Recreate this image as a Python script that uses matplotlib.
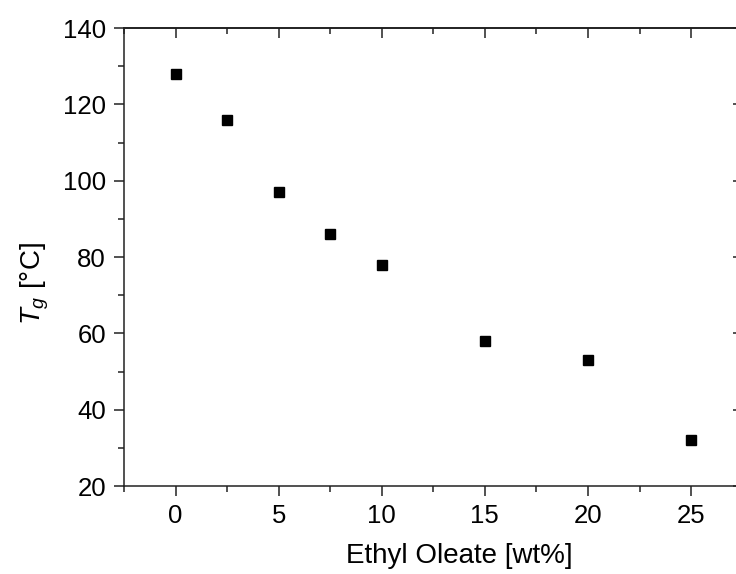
import matplotlib
matplotlib.use("Agg")
import matplotlib.pyplot as plt
from matplotlib.ticker import MultipleLocator

plt.rcParams['font.family'] = ['Liberation Sans', 'DejaVu Sans']
plt.rcParams['mathtext.fontset'] = 'custom'
plt.rcParams['mathtext.it'] = 'Liberation Sans:italic'
plt.rcParams['mathtext.rm'] = 'Liberation Sans'

ethyl_oleate = [0, 2.5, 5, 7.5, 10, 15, 20, 25]
tg_values = [128, 116, 97, 86, 78, 58, 53, 32]
x_ticks = [0, 5, 10, 15, 20, 25]
y_ticks = [20, 40, 60, 80, 100, 120, 140]

fig = plt.figure(figsize=(7.36, 5.74), dpi=100)
ax = fig.add_axes([124/736, 1-486/574, (742.6-124)/736, (486-28)/574])

ax.plot(ethyl_oleate, tg_values, linestyle='none', marker='s', markersize=7,
        color='black')

ax.set_xlim(-2.5, 27.5)
ax.set_ylim(20, 140)
ax.set_xticks(x_ticks)
ax.set_yticks(y_ticks)
ax.xaxis.set_minor_locator(MultipleLocator(2.5))
ax.yaxis.set_minor_locator(MultipleLocator(10))

spine_color = '#222222'
for s in ax.spines.values():
    s.set_linewidth(1.1)
    s.set_color(spine_color)

ax.tick_params(which='major', direction='out', length=7, width=1.1,
               labelsize=18.5, color=spine_color, pad=6)
ax.tick_params(which='minor', direction='out', length=4, width=1.1,
               color=spine_color)

secx = ax.secondary_xaxis('top')
secx.set_xticks(x_ticks)
secx.xaxis.set_minor_locator(MultipleLocator(2.5))
secx.tick_params(which='major', direction='in', length=7, width=1.1,
                 labeltop=False, color=spine_color)
secx.tick_params(which='minor', direction='in', length=4, width=1.1,
                 color=spine_color)
secx.spines['top'].set_linewidth(1.1)

secy = ax.secondary_yaxis('right')
secy.set_yticks(y_ticks)
secy.yaxis.set_minor_locator(MultipleLocator(10))
secy.tick_params(which='major', direction='in', length=7, width=1.1,
                 labelright=False, color=spine_color)
secy.tick_params(which='minor', direction='in', length=4, width=1.1,
                 color=spine_color)

ax.set_xlabel('Ethyl Oleate [wt%]', fontsize=20)
ax.set_ylabel(r'$T_g$ [°C]', fontsize=20)
ax.xaxis.set_label_coords(0.5416, -0.125)
ax.yaxis.set_label_coords(-0.118, 0.443)

fig.savefig('out.png', dpi=100)
